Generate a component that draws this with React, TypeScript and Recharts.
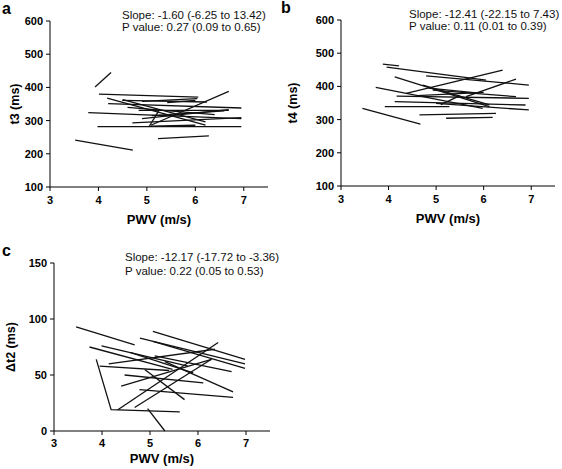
import { ScatterChart, Scatter, XAxis, YAxis } from "recharts";

type Pt = [number, number];

const PWV_TICKS = [3, 4, 5, 6, 7];
const T_TICKS = [100, 200, 300, 400, 500, 600];
const DT2_TICKS = [0, 50, 100, 150];

// each subject: PWV (m/s) vs timing (ms)
const t3Lines: Pt[][] = [
  [[3.93, 401], [4.26, 445]],
  [[3.52, 241], [4.71, 211]],
  [[5.23, 246], [6.28, 254]],
  [[4.01, 380], [6.06, 371]],
  [[3.98, 282], [6.95, 282]],
  [[4.18, 368], [6.21, 286]],
  [[5.08, 286], [6.69, 388]],
  [[4.2, 351], [6.95, 338]],
  [[3.79, 324], [6.95, 306]],
  [[4.9, 358], [6.04, 366]],
  [[5.42, 354], [6.0, 361]],
  [[4.9, 306], [6.69, 333]],
  [[4.7, 293], [6.95, 309]],
  [[4.5, 363], [6.21, 296]],
  [[5.08, 283], [6.0, 286]],
  [[5.05, 283], [5.25, 331]],
  [[4.83, 331], [6.69, 331]],
  [[4.49, 361], [6.24, 356]],
  [[4.6, 340], [6.4, 318]],
  [[5.1, 315], [6.6, 329]],
];

const t4Lines: Pt[][] = [
  [[3.45, 334], [4.67, 286]],
  [[3.88, 467], [4.22, 462]],
  [[3.96, 458], [6.05, 419]],
  [[4.79, 432], [6.95, 404]],
  [[4.13, 429], [6.12, 339]],
  [[3.73, 397], [5.98, 334]],
  [[4.37, 379], [6.4, 449]],
  [[5.63, 369], [6.68, 422]],
  [[4.17, 371], [6.95, 364]],
  [[4.13, 354], [6.88, 344]],
  [[3.92, 339], [5.28, 339]],
  [[4.65, 314], [6.26, 319]],
  [[5.21, 304], [6.19, 307]],
  [[5.0, 349], [6.95, 329]],
  [[4.72, 404], [6.12, 344]],
  [[4.93, 389], [6.68, 369]],
  [[4.6, 372], [6.0, 382]],
  [[5.1, 345], [5.5, 372]],
  [[4.85, 395], [5.9, 380]],
];

const dt2Lines: Pt[][] = [
  [[3.46, 93], [4.68, 77]],
  [[3.74, 75], [5.47, 55]],
  [[3.88, 64], [4.19, 19], [5.62, 17]],
  [[3.99, 76], [5.79, 58]],
  [[4.33, 19], [6.42, 79]],
  [[4.68, 21], [6.28, 64]],
  [[4.95, 20], [5.31, 0]],
  [[5.06, 89], [6.98, 64]],
  [[4.79, 83], [6.98, 60]],
  [[5.06, 80], [6.98, 56]],
  [[4.14, 60], [6.35, 73]],
  [[4.47, 50], [6.11, 43]],
  [[4.4, 40], [6.28, 64]],
  [[4.78, 37], [6.73, 30]],
  [[4.89, 55], [5.72, 28]],
  [[5.31, 62], [6.73, 35]],
  [[5.1, 67], [6.7, 53]],
  [[4.6, 70], [5.9, 52]],
  [[3.95, 58], [5.4, 54]],
];

const STATS_T3 = ["Slope: -1.60 (-6.25 to 13.42)", "P value: 0.27 (0.09 to 0.65)"];
const STATS_T4 = ["Slope: -12.41 (-22.15 to 7.43)", "P value: 0.11 (0.01 to 0.39)"];
const STATS_DT2 = ["Slope: -12.17 (-17.72 to -3.36)", "P value: 0.22 (0.05 to 0.53)"];

const FONT = "'Liberation Sans', Arial, sans-serif";
const tickStyle = { fill: "#000", fontSize: 11, fontWeight: 700 };
const noDot = () => <g />;

interface PanelProps {
  lines: Pt[][];
  yDomain: [number, number];
  yTicks: number[];
  yLabel: string;
  left: number;
  top: number;
  width: number;
  height: number;
  margin: { top: number; right: number; left: number; bottom: number };
  yAxisWidth: number;
  xAxisHeight: number;
  xTickMargin: number;
  yLabelX: number;
}

function Panel(p: PanelProps) {
  return (
    <div style={{ position: "absolute", left: p.left, top: p.top }}>
      <ScatterChart width={p.width} height={p.height} margin={p.margin}>
        <XAxis
          type="number"
          dataKey="x"
          domain={[3, 7.5]}
          ticks={PWV_TICKS}
          height={p.xAxisHeight}
          tick={tickStyle}
          tickSize={4}
          tickMargin={p.xTickMargin}
          axisLine={{ stroke: "#000" }}
          tickLine={{ stroke: "#000" }}
          label={{
            value: "PWV (m/s)",
            position: "insideBottom",
            offset: 0,
            fill: "#000",
            fontSize: 13,
            fontWeight: 700,
          }}
        />
        <YAxis
          type="number"
          dataKey="y"
          domain={p.yDomain}
          ticks={p.yTicks}
          width={p.yAxisWidth}
          tick={tickStyle}
          tickSize={4}
          tickMargin={3}
          axisLine={{ stroke: "#000" }}
          tickLine={{ stroke: "#000" }}
          label={{
            value: p.yLabel,
            angle: -90,
            position: "insideLeft",
            offset: p.yLabelX,
            fill: "#000",
            fontSize: 12.5,
            fontWeight: 700,
            style: { textAnchor: "middle" },
          }}
        />
        {p.lines.map((pts, i) => (
          <Scatter
            key={i}
            data={pts.map(([x, y]) => ({ x, y }))}
            line={{ stroke: "#111", strokeWidth: 1.3 }}
            shape={noDot}
            isAnimationActive={false}
          />
        ))}
      </ScatterChart>
    </div>
  );
}

export default function App() {
  const statStyle = { fontSize: 11.5, fill: "#111" };
  const letterStyle = { fontSize: 16, fontWeight: 700, fill: "#000" };
  return (
    <div
      style={{
        position: "absolute",
        left: 0,
        top: 0,
        width: 562,
        height: 469,
        background: "#fff",
        fontFamily: FONT,
      }}
    >
      <Panel
        lines={t3Lines}
        yDomain={[100, 600]}
        yTicks={T_TICKS}
        yLabel="t3 (ms)"
        left={0}
        top={0}
        width={280}
        height={230}
        margin={{ top: 21, right: 12, left: 0, bottom: 6 }}
        yAxisWidth={50}
        xAxisHeight={37}
        xTickMargin={5}
        yLabelX={15}
      />
      <Panel
        lines={t4Lines}
        yDomain={[100, 600]}
        yTicks={T_TICKS}
        yLabel="t4 (ms)"
        left={280}
        top={0}
        width={282}
        height={229}
        margin={{ top: 20, right: 7, left: 0, bottom: 6 }}
        yAxisWidth={61}
        xAxisHeight={37}
        xTickMargin={5}
        yLabelX={13}
      />
      <Panel
        lines={dt2Lines}
        yDomain={[0, 150]}
        yTicks={DT2_TICKS}
        yLabel="Δt2 (ms)"
        left={0}
        top={230}
        width={280}
        height={239}
        margin={{ top: 33, right: 10, left: 0, bottom: 6 }}
        yAxisWidth={54}
        xAxisHeight={32}
        xTickMargin={4}
        yLabelX={11}
      />
      <svg
        width={562}
        height={469}
        style={{ position: "absolute", left: 0, top: 0, pointerEvents: "none" }}
      >
        <text x={2} y={14} style={letterStyle}>a</text>
        <text x={281} y={13} style={letterStyle}>b</text>
        <text x={2} y={256} style={letterStyle}>c</text>
        <text x={122} y={19} style={statStyle}>{STATS_T3[0]}</text>
        <text x={122} y={31} style={statStyle}>{STATS_T3[1]}</text>
        <text x={409} y={18} style={statStyle}>{STATS_T4[0]}</text>
        <text x={409} y={30} style={statStyle}>{STATS_T4[1]}</text>
        <text x={125} y={261} style={statStyle}>{STATS_DT2[0]}</text>
        <text x={125} y={275} style={statStyle}>{STATS_DT2[1]}</text>
      </svg>
    </div>
  );
}
